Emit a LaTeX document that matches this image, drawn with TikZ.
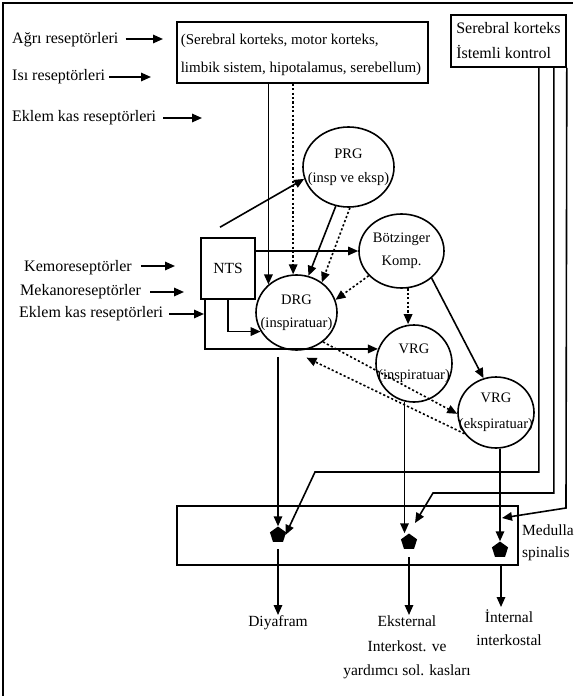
\documentclass[tikz,border=0pt]{standalone}
\usepackage{fontspec}
\setmainfont{Liberation Serif}
\usetikzlibrary{shapes.geometric,arrows.meta,calc}
\begin{document}
\begin{tikzpicture}[x=1pt,y=-1pt,
  every node/.style={inner sep=0pt},
  ln/.style={line width=1.6pt},
  arr/.style={ln,-{Triangle[length=10pt,width=8.5pt]}},
  dotarr/.style={arr,dash pattern=on 2.2pt off 2.2pt},
  circ/.style={ellipse,draw,ln,inner sep=0pt},
  pent/.style={regular polygon,regular polygon sides=5,fill=black,minimum size=17pt,inner sep=0pt},
  lefttxt/.style={anchor=west,font=\fontsize{16}{19}\selectfont},
  ctxt/.style={align=center,font=\fontsize{14.5}{#1}\selectfont},
  btxt/.style={align=center,anchor=north,font=\fontsize{15.5}{24.5}\selectfont}
]
\useasboundingbox (0,0) rectangle (573,696);
\draw[ln] (3,696) -- (3,3) -- (573,3);

% boxes
\node[draw,ln,minimum width=251pt,minimum height=61pt] (top) at (302.5,52.5) {};
\node[align=left,font=\fontsize{15}{28}\selectfont] (toptxt) at (301,54.5)
  {(Serebral korteks, motor korteks,\\limbik sistem, hipotalamus, serebellum)};
\node[draw,ln,minimum width=115pt,minimum height=52pt,align=left,font=\fontsize{16}{25}\selectfont] (rb) at (508.5,41)
  {Serebral korteks\\İstemli kontrol};
\node[draw,ln,minimum width=54pt,minimum height=61pt,font=\fontsize{15.5}{18}\selectfont] (nts) at (228,268.5) {NTS};

% circles
\node[circ,minimum width=91pt,minimum height=80pt] (prg) at (348.5,167) {};
\node[ctxt=24] (prgt) at (prg) {PRG\\(insp ve eksp)};
\node[circ,minimum width=81pt,minimum height=75pt] (drg) at (296.5,312.5) {};
\node[ctxt=23] (drgt) at (drg) {DRG\\(inspiratuar)};
\node[circ,minimum width=85pt,minimum height=74pt] (botz) at (401.5,251) {};
\node[ctxt=23] (botzt) at (botz) {Bötzinger\\Komp.};
\node[circ,minimum width=76pt,minimum height=77pt] (vrgi) at (414,363.5) {};
\node[ctxt=26] (vrgit) at (vrgi) {VRG\\(inspiratuar)};
\node[circ,minimum width=76pt,minimum height=71pt] (vrge) at (496,412.5) {};
\node[ctxt=26] (vrget) at (vrge) {VRG\\(ekspiratuar)};

% spinal box and pentagons
\node[draw,ln,minimum width=341pt,minimum height=59pt] (spinal) at (347.5,535.5) {};
\node[pent] (p1) at (278,535) {};
\node[pent] (p2) at (409,542) {};
\node[pent] (p3) at (500,550) {};
\node[anchor=north west,align=left,font=\fontsize{15.5}{22}\selectfont] (med) at (522,525) {Medulla\\spinalis};

% left labels
\node[lefttxt] (agri) at (12,40) {Ağrı reseptörleri};
\node[lefttxt] (isi) at (12,77) {Isı reseptörleri};
\node[lefttxt] (eklem1) at (12,118) {Eklem kas reseptörleri};
\node[lefttxt] (kemo) at (24,268) {Kemoreseptörler};
\node[lefttxt] (meka) at (20,292) {Mekanoreseptörler};
\node[lefttxt] (eklem2) at (19,314) {Eklem kas reseptörleri};
\coordinate (agriE) at (163,39);
\coordinate (isiE) at (151,77);
\coordinate (eklem1E) at (202,118);
\coordinate (kemoE) at (175,266);
\coordinate (mekaE) at (184,292);
\coordinate (eklem2E) at (204,314);
\draw[arr] ([xshift=7pt]agri.east |- agriE) -- (agriE);
\draw[arr] ([xshift=4pt]isi.east |- isiE) -- (isiE);
\draw[arr] ([xshift=7pt]eklem1.east |- eklem1E) -- (eklem1E);
\draw[arr] ([xshift=9pt]kemo.east |- kemoE) -- (kemoE);
\draw[arr] ([xshift=9pt]meka.east |- mekaE) -- (mekaE);
\draw[arr] ([xshift=6pt]eklem2.east |- eklem2E) -- (eklem2E);

% bottom labels
\node[btxt] (diy) at (278,615) {Diyafram};
\node[btxt] (eks) at (407,616) {Eksternal\\Interkost. ve\\yardımcı sol. kasları};
\node[btxt,font=\fontsize{15.5}{22.5}\selectfont] (int) at (509,610) {İnternal\\interkostal};

% connectors from top box
\draw[arr] (top.south -| drg.135) -- (drg.135);
\draw[dotarr] (top.south -| drg.95) -- (drg.95);

% NTS connectors
\coordinate (ntsprg) at ($(nts.north)+(-8,-10)$);
\draw[arr] (ntsprg) -- (prg.195);
\draw[arr] (nts.east |- botz.west) -- (botz.west);
\draw[arr] ([xshift=-23pt]nts.south) |- (vrgi.158);
\draw[arr] (nts.south) |- (drg.-152);

% PRG to DRG
\draw[arr] (prg.-108) -- (drg.72);
\draw[dotarr] (prg.-88) -- (drg.50);

% Botzinger
\draw[dotarr] (botz.-143) -- (drg.18);
\draw[dotarr] (botz.-80) -- (botz.-80 |- vrgi.north);
\draw[arr] (botz.-42) -- (vrge.110);

% DRG <-> VRG eksp
\draw[dotarr] (drg.-48) -- (vrge.182);
\draw[dotarr] (vrge.-146) -- ([yshift=-8pt]drg.-75);

% to pentagons
\draw[arr] ([yshift=-6pt]drg.south -| p1.north) -- (p1.north);
\draw[arr] (vrgi.-104) -- (vrgi.-104 |- p2.north);
\draw[arr] (vrge.south -| p3.north) -- (p3.north);

% right box lines
\coordinate (c1) at (315,472);
\coordinate (c2) at (433,493);
\coordinate (c3) at (566,508);
\coordinate (t2) at ($(p2)+(6,-19)$);
\coordinate (t3) at ($(p3)+(2,-32)$);
\draw[arr] ([xshift=-28pt]rb.south east) |- (c1) -- (p1.east);
\draw[arr] ([xshift=-13pt]rb.south east) |- (c2) -- (t2);
\draw[arr] (rb.south east) -- (c3) -- (t3);

% outputs
\coordinate (p3out) at (501,607);
\draw[arr] ([yshift=-7pt]p1.south) -- (p1.south |- diy.north);
\draw[arr] ([yshift=-8pt]p2.south) -- (p2.south |- diy.north);
\draw[arr] ([yshift=-7pt]p3.south -| p3out) -- (p3out);
\end{tikzpicture}
\end{document}
